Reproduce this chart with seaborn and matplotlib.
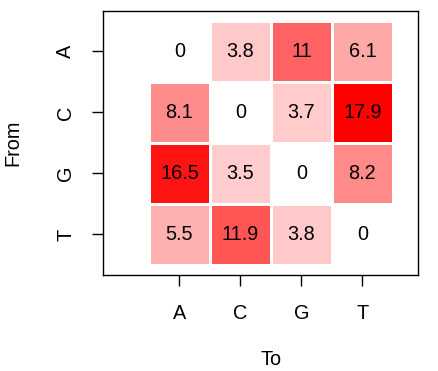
import matplotlib
matplotlib.use("Agg")
import matplotlib.pyplot as plt
import seaborn as sns
import numpy as np
import pandas as pd
from matplotlib.colors import LinearSegmentedColormap


bases = ["A", "C", "G", "T"]
row_a = [0, 3.8, 11, 6.1]
row_c = [8.1, 0, 3.7, 17.9]
row_g = [16.5, 3.5, 0, 8.2]
row_t = [5.5, 11.9, 3.8, 0]


def build_df():
    df = pd.DataFrame([row_a, row_c, row_g, row_t], index=bases, columns=bases)
    return df


def plot_matrix(df):
    sns.set_style("white")
    plt.rcParams["font.family"] = ["Liberation Sans", "DejaVu Sans"]
    plt.rcParams["text.color"] = "black"
    plt.rcParams["axes.labelcolor"] = "black"
    plt.rcParams["xtick.color"] = "black"
    plt.rcParams["ytick.color"] = "black"

    fig = plt.figure(figsize=(4.39, 3.71), dpi=100)
    ax = fig.add_axes([0.2346, 0.2588, 0.7174, 0.7116])

    cmap = LinearSegmentedColormap.from_list("wr", ["#FFFFFF", "#FF0000"])
    sns.heatmap(
        df,
        ax=ax,
        cmap=cmap,
        vmin=0,
        vmax=df.values.max(),
        annot=True,
        fmt="g",
        annot_kws={"fontsize": 14.3, "color": "black"},
        linewidths=0.8,
        linecolor="white",
        cbar=False,
    )

    ax.set_xlim(-0.754, 4.41)
    ax.set_ylim(4.164, -0.164)

    for spine in ax.spines.values():
        spine.set_visible(True)
        spine.set_color("black")
        spine.set_linewidth(1.0)

    ax.tick_params(
        axis="both",
        which="both",
        direction="out",
        length=8,
        width=1,
        color="black",
        labelcolor="black",
        labelsize=14.3,
        bottom=True,
        left=True,
    )
    ax.tick_params(axis="x", pad=13)
    ax.tick_params(axis="y", pad=12)
    ax.set_yticklabels(bases, rotation=90, va="center")
    ax.set_xticklabels(bases, rotation=0)

    ax.set_xlabel("To", fontsize=14.3, color="black")
    ax.set_ylabel("From", fontsize=14.3, color="black")
    ax.xaxis.set_label_coords(0.533, -0.285)
    ax.yaxis.set_label_coords(-0.255, 0.5)

    fig.savefig("out.png", dpi=100)
    plt.close(fig)


def main():
    df = build_df()
    plot_matrix(df)


if __name__ == "__main__":
    main()
